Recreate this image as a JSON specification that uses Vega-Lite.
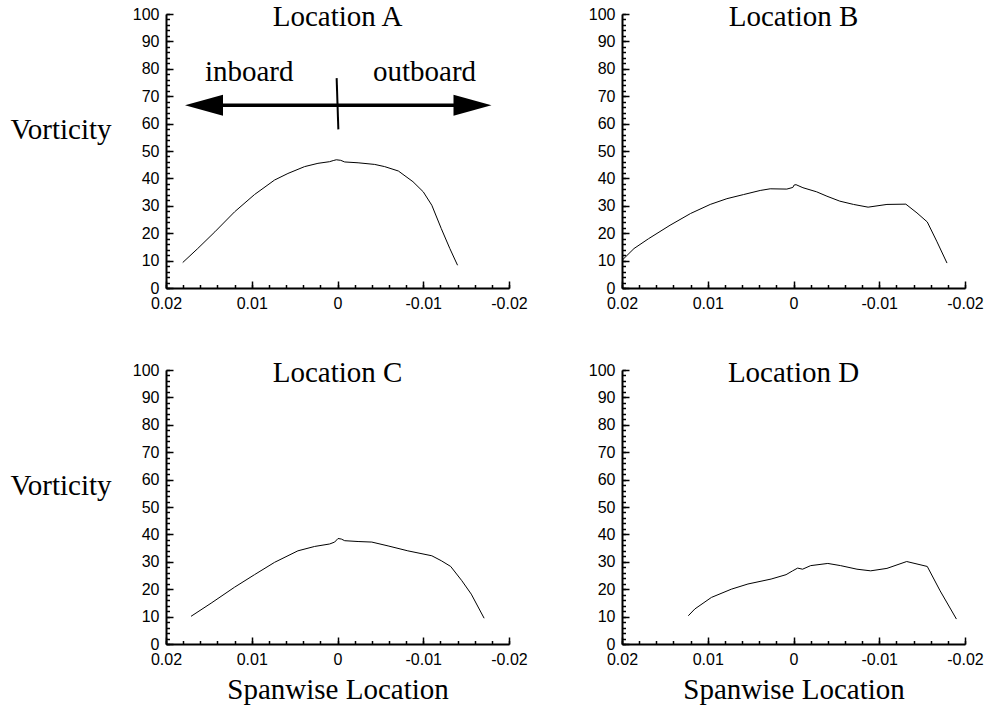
{
  "$schema": "https://vega.github.io/schema/vega-lite/v6.json",
  "padding": {"left": 10, "top": 3, "right": 5, "bottom": 3},
  "background": "white",
  "config": {
    "view": {"stroke": null},
    "axis": {
      "domainColor": "black", "domainWidth": 2, "tickColor": "black", "tickWidth": 1.5,
      "labelColor": "black", "labelFont": "Liberation Sans", "labelFontSize": 16,
      "grid": false, "labelFlush": false, "labelOverlap": false,
      "titleFont": "Liberation Serif", "titleFontSize": 29, "titleFontWeight": "normal", "titleColor": "black"
    },
    "title": {"font": "Liberation Serif", "fontSize": 29, "fontWeight": "normal", "color": "black", "frame": "group", "anchor": "middle", "baseline": "alphabetic", "offset": -14, "dy": 12},
    "text": {"font": "Liberation Serif", "fontSize": 29, "color": "black"}
  },
  "datasets": {
    "curves": [
      {"panel": "A", "x": 0.01805, "y": 9.3},
      {"panel": "A", "x": 0.0163, "y": 14.4},
      {"panel": "A", "x": 0.0143, "y": 20.5},
      {"panel": "A", "x": 0.012, "y": 27.8},
      {"panel": "A", "x": 0.00968, "y": 34.1},
      {"panel": "A", "x": 0.00734, "y": 39.4},
      {"panel": "A", "x": 0.00578, "y": 41.8},
      {"panel": "A", "x": 0.00384, "y": 44.3},
      {"panel": "A", "x": 0.00228, "y": 45.5},
      {"panel": "A", "x": 0.00092, "y": 46.1},
      {"panel": "A", "x": 0.0005, "y": 46.5},
      {"panel": "A", "x": 0.00014, "y": 46.8},
      {"panel": "A", "x": -0.00037, "y": 46.6},
      {"panel": "A", "x": -0.00084, "y": 46.0},
      {"panel": "A", "x": -0.0024, "y": 45.7},
      {"panel": "A", "x": -0.00434, "y": 45.1},
      {"panel": "A", "x": -0.0055, "y": 44.3},
      {"panel": "A", "x": -0.0071, "y": 42.7},
      {"panel": "A", "x": -0.0088, "y": 38.8},
      {"panel": "A", "x": -0.01, "y": 35.1},
      {"panel": "A", "x": -0.011, "y": 30.2},
      {"panel": "A", "x": -0.0121, "y": 21.7},
      {"panel": "A", "x": -0.0131, "y": 14.4},
      {"panel": "A", "x": -0.014, "y": 8.3},

      {"panel": "B", "x": 0.0199, "y": 10.4},
      {"panel": "B", "x": 0.0186, "y": 14.4},
      {"panel": "B", "x": 0.0169, "y": 18.0},
      {"panel": "B", "x": 0.0144, "y": 22.9},
      {"panel": "B", "x": 0.012, "y": 27.2},
      {"panel": "B", "x": 0.00971, "y": 30.5},
      {"panel": "B", "x": 0.00777, "y": 32.6},
      {"panel": "B", "x": 0.00583, "y": 34.1},
      {"panel": "B", "x": 0.00388, "y": 35.6},
      {"panel": "B", "x": 0.00272, "y": 36.2},
      {"panel": "B", "x": 0.00078, "y": 36.1},
      {"panel": "B", "x": 0.00008, "y": 36.7},
      {"panel": "B", "x": -0.00008, "y": 37.6},
      {"panel": "B", "x": -0.0003, "y": 37.7},
      {"panel": "B", "x": -0.0011, "y": 36.6},
      {"panel": "B", "x": -0.0027, "y": 35.1},
      {"panel": "B", "x": -0.0039, "y": 33.5},
      {"panel": "B", "x": -0.0054, "y": 31.7},
      {"panel": "B", "x": -0.007, "y": 30.5},
      {"panel": "B", "x": -0.0087, "y": 29.5},
      {"panel": "B", "x": -0.0109, "y": 30.5},
      {"panel": "B", "x": -0.0131, "y": 30.6},
      {"panel": "B", "x": -0.0144, "y": 27.4},
      {"panel": "B", "x": -0.0156, "y": 24.1},
      {"panel": "B", "x": -0.0167, "y": 17.1},
      {"panel": "B", "x": -0.0179, "y": 9.1},

      {"panel": "C", "x": 0.01708, "y": 10.1},
      {"panel": "C", "x": 0.01474, "y": 14.9},
      {"panel": "C", "x": 0.01202, "y": 20.7},
      {"panel": "C", "x": 0.00968, "y": 25.3},
      {"panel": "C", "x": 0.00734, "y": 29.8},
      {"panel": "C", "x": 0.00462, "y": 34.0},
      {"panel": "C", "x": 0.00267, "y": 35.6},
      {"panel": "C", "x": 0.00092, "y": 36.5},
      {"panel": "C", "x": 0.00033, "y": 37.2},
      {"panel": "C", "x": -0.00006, "y": 38.5},
      {"panel": "C", "x": -0.00045, "y": 38.3},
      {"panel": "C", "x": -0.00084, "y": 37.7},
      {"panel": "C", "x": -0.0024, "y": 37.4},
      {"panel": "C", "x": -0.004, "y": 37.2},
      {"panel": "C", "x": -0.0059, "y": 35.8},
      {"panel": "C", "x": -0.0082, "y": 34.0},
      {"panel": "C", "x": -0.011, "y": 32.2},
      {"panel": "C", "x": -0.0121, "y": 30.4},
      {"panel": "C", "x": -0.0132, "y": 28.3},
      {"panel": "C", "x": -0.0145, "y": 23.1},
      {"panel": "C", "x": -0.0156, "y": 18.2},
      {"panel": "C", "x": -0.0171, "y": 9.4},

      {"panel": "D", "x": 0.01227, "y": 10.3},
      {"panel": "D", "x": 0.0115, "y": 12.8},
      {"panel": "D", "x": 0.00957, "y": 17.0},
      {"panel": "D", "x": 0.00725, "y": 20.0},
      {"panel": "D", "x": 0.00531, "y": 21.9},
      {"panel": "D", "x": 0.00261, "y": 23.7},
      {"panel": "D", "x": 0.00087, "y": 25.3},
      {"panel": "D", "x": 0.0001, "y": 26.7},
      {"panel": "D", "x": -0.00048, "y": 27.7},
      {"panel": "D", "x": -0.00106, "y": 27.3},
      {"panel": "D", "x": -0.002, "y": 28.6},
      {"panel": "D", "x": -0.004, "y": 29.4},
      {"panel": "D", "x": -0.0055, "y": 28.6},
      {"panel": "D", "x": -0.0074, "y": 27.3},
      {"panel": "D", "x": -0.009, "y": 26.7},
      {"panel": "D", "x": -0.0109, "y": 27.6},
      {"panel": "D", "x": -0.0132, "y": 30.1},
      {"panel": "D", "x": -0.0156, "y": 28.3},
      {"panel": "D", "x": -0.0171, "y": 19.4},
      {"panel": "D", "x": -0.019, "y": 9.1}
    ],
    "arrowline": [{"x": 0.0156, "x2": -0.0156, "y": 66.7}],
    "slash": [{"x": 0.0001, "x2": -0.0001, "y": 76.6, "y2": 57.9}],
    "headL": [{"x": 0.01557, "y": 66.7}],
    "headR": [{"x": -0.01574, "y": 66.7}],
    "labels": [
      {"x": 0.0103, "y": 75.5, "label": "inboard"},
      {"x": -0.01015, "y": 75.5, "label": "outboard"}
    ]
  },
  "concat": [
    {
      "width": 343, "height": 274,
      "title": {"text": "Location A"},
      "layer": [
        {
          "data": {"name": "curves"},
          "transform": [{"filter": "datum.panel === 'A'"}],
          "mark": {"type": "line", "color": "black", "strokeWidth": 1},
          "encoding": {
            "x": {"field": "x", "type": "quantitative", "scale": {"domain": [-0.02, 0.02], "reverse": true, "nice": false, "zero": false},
              "axis": {"values": [0.02, 0.01, 0, -0.01, -0.02], "labelExpr": "datum.value == 0 ? '0' : (datum.value < 0 ? '-' : '') + format(abs(datum.value), '.2f')", "tickSize": -7, "labelPadding": 14, "title": null, "orient": "bottom"}},
            "y": {"field": "y", "type": "quantitative", "scale": {"domain": [0, 100], "nice": false},
              "axis": {"values": [0, 10, 20, 30, 40, 50, 60, 70, 80, 90, 100], "format": "d", "tickSize": -7, "labelPadding": 14, "title": "Vorticity", "titleAngle": 0, "titleAlign": "right", "titleBaseline": "alphabetic", "titleX": -55, "titleY": 124, "orient": "left"}}
          }
        },
        {
          "data": {"name": "curves"},
          "transform": [{"filter": "datum.panel === 'A'"}],
          "mark": {"type": "point", "opacity": 0},
          "encoding": {
            "x": {"field": "x", "type": "quantitative", "axis": {"values": [0.02, 0.018, 0.016, 0.014, 0.012, 0.01, 0.008, 0.006, 0.004, 0.002, 0, -0.002, -0.004, -0.006, -0.008, -0.01, -0.012, -0.014, -0.016, -0.018, -0.02], "labels": false, "domain": false, "tickSize": -3.5, "title": null, "orient": "bottom"}},
            "y": {"field": "y", "type": "quantitative", "axis": {"values": [0,2,4,6,8,10,12,14,16,18,20,22,24,26,28,30,32,34,36,38,40,42,44,46,48,50,52,54,56,58,60,62,64,66,68,70,72,74,76,78,80,82,84,86,88,90,92,94,96,98,100], "labels": false, "domain": false, "tickSize": -3.5, "title": null, "orient": "left"}}
          }
        },
        {
          "data": {"name": "arrowline"},
          "mark": {"type": "rule", "color": "black", "strokeWidth": 3.5},
          "encoding": {"x": {"field": "x", "type": "quantitative", "axis": null}, "x2": {"field": "x2"}, "y": {"field": "y", "type": "quantitative", "axis": null}}
        },
        {
          "data": {"name": "slash"},
          "mark": {"type": "rule", "color": "black", "strokeWidth": 2},
          "encoding": {"x": {"field": "x", "type": "quantitative", "axis": null}, "x2": {"field": "x2"}, "y": {"field": "y", "type": "quantitative", "axis": null}, "y2": {"field": "y2"}}
        },
        {
          "data": {"name": "headL"},
          "mark": {"type": "point", "shape": "M-1,0L1,-0.55L1,0.55Z", "filled": true, "color": "black", "opacity": 1, "size": 1444, "strokeWidth": 0},
          "encoding": {"x": {"field": "x", "type": "quantitative", "axis": null}, "y": {"field": "y", "type": "quantitative", "axis": null}}
        },
        {
          "data": {"name": "headR"},
          "mark": {"type": "point", "shape": "M1,0L-1,-0.55L-1,0.55Z", "filled": true, "color": "black", "opacity": 1, "size": 1444, "strokeWidth": 0},
          "encoding": {"x": {"field": "x", "type": "quantitative", "axis": null}, "y": {"field": "y", "type": "quantitative", "axis": null}}
        },
        {
          "data": {"name": "labels"},
          "mark": {"type": "text", "align": "center", "baseline": "alphabetic"},
          "encoding": {"x": {"field": "x", "type": "quantitative", "axis": null}, "y": {"field": "y", "type": "quantitative", "axis": null}, "text": {"field": "label"}}
        }
      ],
      "resolve": {"axis": {"x": "independent", "y": "independent"}}
    },
    {
      "width": 343, "height": 274,
      "title": {"text": "Location B"},
      "layer": [
        {
          "data": {"name": "curves"},
          "transform": [{"filter": "datum.panel === 'B'"}],
          "mark": {"type": "line", "color": "black", "strokeWidth": 1},
          "encoding": {
            "x": {"field": "x", "type": "quantitative", "scale": {"domain": [-0.02, 0.02], "reverse": true, "nice": false, "zero": false},
              "axis": {"values": [0.02, 0.01, 0, -0.01, -0.02], "labelExpr": "datum.value == 0 ? '0' : (datum.value < 0 ? '-' : '') + format(abs(datum.value), '.2f')", "tickSize": -7, "labelPadding": 14, "title": null, "orient": "bottom"}},
            "y": {"field": "y", "type": "quantitative", "scale": {"domain": [0, 100], "nice": false},
              "axis": {"values": [0, 10, 20, 30, 40, 50, 60, 70, 80, 90, 100], "format": "d", "tickSize": -7, "labelPadding": 14, "title": null, "orient": "left"}}
          }
        },
        {
          "data": {"name": "curves"},
          "transform": [{"filter": "datum.panel === 'B'"}],
          "mark": {"type": "point", "opacity": 0},
          "encoding": {
            "x": {"field": "x", "type": "quantitative", "axis": {"values": [0.02, 0.018, 0.016, 0.014, 0.012, 0.01, 0.008, 0.006, 0.004, 0.002, 0, -0.002, -0.004, -0.006, -0.008, -0.01, -0.012, -0.014, -0.016, -0.018, -0.02], "labels": false, "domain": false, "tickSize": -3.5, "title": null, "orient": "bottom"}},
            "y": {"field": "y", "type": "quantitative", "axis": {"values": [0,2,4,6,8,10,12,14,16,18,20,22,24,26,28,30,32,34,36,38,40,42,44,46,48,50,52,54,56,58,60,62,64,66,68,70,72,74,76,78,80,82,84,86,88,90,92,94,96,98,100], "labels": false, "domain": false, "tickSize": -3.5, "title": null, "orient": "left"}}
          }
        }
      ],
      "resolve": {"axis": {"x": "independent", "y": "independent"}}
    },
    {
      "width": 343, "height": 274,
      "title": {"text": "Location C"},
      "layer": [
        {
          "data": {"name": "curves"},
          "transform": [{"filter": "datum.panel === 'C'"}],
          "mark": {"type": "line", "color": "black", "strokeWidth": 1},
          "encoding": {
            "x": {"field": "x", "type": "quantitative", "scale": {"domain": [-0.02, 0.02], "reverse": true, "nice": false, "zero": false},
              "axis": {"values": [0.02, 0.01, 0, -0.01, -0.02], "labelExpr": "datum.value == 0 ? '0' : (datum.value < 0 ? '-' : '') + format(abs(datum.value), '.2f')", "tickSize": -7, "labelPadding": 14, "title": "Spanwise Location", "titleBaseline": "alphabetic", "titleY": 54, "orient": "bottom"}},
            "y": {"field": "y", "type": "quantitative", "scale": {"domain": [0, 100], "nice": false},
              "axis": {"values": [0, 10, 20, 30, 40, 50, 60, 70, 80, 90, 100], "format": "d", "tickSize": -7, "labelPadding": 14, "title": "Vorticity", "titleAngle": 0, "titleAlign": "right", "titleBaseline": "alphabetic", "titleX": -55, "titleY": 124, "orient": "left"}}
          }
        },
        {
          "data": {"name": "curves"},
          "transform": [{"filter": "datum.panel === 'C'"}],
          "mark": {"type": "point", "opacity": 0},
          "encoding": {
            "x": {"field": "x", "type": "quantitative", "axis": {"values": [0.02, 0.018, 0.016, 0.014, 0.012, 0.01, 0.008, 0.006, 0.004, 0.002, 0, -0.002, -0.004, -0.006, -0.008, -0.01, -0.012, -0.014, -0.016, -0.018, -0.02], "labels": false, "domain": false, "tickSize": -3.5, "title": null, "orient": "bottom"}},
            "y": {"field": "y", "type": "quantitative", "axis": {"values": [0,2,4,6,8,10,12,14,16,18,20,22,24,26,28,30,32,34,36,38,40,42,44,46,48,50,52,54,56,58,60,62,64,66,68,70,72,74,76,78,80,82,84,86,88,90,92,94,96,98,100], "labels": false, "domain": false, "tickSize": -3.5, "title": null, "orient": "left"}}
          }
        }
      ],
      "resolve": {"axis": {"x": "independent", "y": "independent"}}
    },
    {
      "width": 343, "height": 274,
      "title": {"text": "Location D"},
      "layer": [
        {
          "data": {"name": "curves"},
          "transform": [{"filter": "datum.panel === 'D'"}],
          "mark": {"type": "line", "color": "black", "strokeWidth": 1},
          "encoding": {
            "x": {"field": "x", "type": "quantitative", "scale": {"domain": [-0.02, 0.02], "reverse": true, "nice": false, "zero": false},
              "axis": {"values": [0.02, 0.01, 0, -0.01, -0.02], "labelExpr": "datum.value == 0 ? '0' : (datum.value < 0 ? '-' : '') + format(abs(datum.value), '.2f')", "tickSize": -7, "labelPadding": 14, "title": "Spanwise Location", "titleBaseline": "alphabetic", "titleY": 54, "orient": "bottom"}},
            "y": {"field": "y", "type": "quantitative", "scale": {"domain": [0, 100], "nice": false},
              "axis": {"values": [0, 10, 20, 30, 40, 50, 60, 70, 80, 90, 100], "format": "d", "tickSize": -7, "labelPadding": 14, "title": null, "orient": "left"}}
          }
        },
        {
          "data": {"name": "curves"},
          "transform": [{"filter": "datum.panel === 'D'"}],
          "mark": {"type": "point", "opacity": 0},
          "encoding": {
            "x": {"field": "x", "type": "quantitative", "axis": {"values": [0.02, 0.018, 0.016, 0.014, 0.012, 0.01, 0.008, 0.006, 0.004, 0.002, 0, -0.002, -0.004, -0.006, -0.008, -0.01, -0.012, -0.014, -0.016, -0.018, -0.02], "labels": false, "domain": false, "tickSize": -3.5, "title": null, "orient": "bottom"}},
            "y": {"field": "y", "type": "quantitative", "axis": {"values": [0,2,4,6,8,10,12,14,16,18,20,22,24,26,28,30,32,34,36,38,40,42,44,46,48,50,52,54,56,58,60,62,64,66,68,70,72,74,76,78,80,82,84,86,88,90,92,94,96,98,100], "labels": false, "domain": false, "tickSize": -3.5, "title": null, "orient": "left"}}
          }
        }
      ],
      "resolve": {"axis": {"x": "independent", "y": "independent"}}
    }
  ],
  "columns": 2,
  "spacing": {"row": 82, "column": 113},
  "bounds": "flush"
}
